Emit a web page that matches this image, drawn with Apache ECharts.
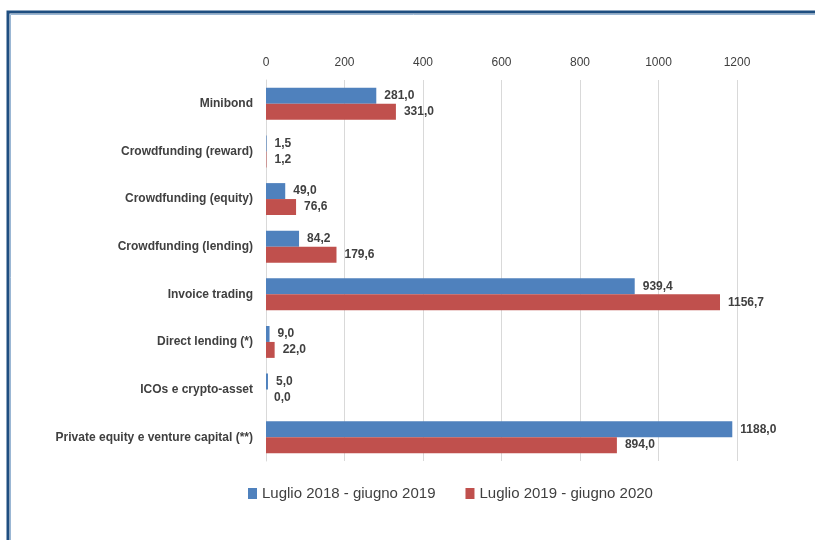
<!DOCTYPE html>
<html>
<head>
<meta charset="utf-8">
<script src="https://cdn.jsdelivr.net/npm/echarts@6/dist/echarts.min.js"></script>
<style>html,body{margin:0;padding:0;background:#fff;}#c{width:815px;height:540px;}</style>
</head>
<body>
<div id="c"></div>
<script>
var categories = ['Minibond','Crowdfunding (reward)','Crowdfunding (equity)','Crowdfunding (lending)','Invoice trading','Direct lending (*)','ICOs e crypto-asset','Private equity e venture capital (**)'];
var seriesNames = ['Luglio 2018 - giugno 2019','Luglio 2019 - giugno 2020'];
var values2019 = [281.0, 1.5, 49.0, 84.2, 939.4, 9.0, 5.0, 1188.0];
var values2020 = [331.0, 1.2, 76.6, 179.6, 1156.7, 22.0, 0.0, 894.0];

var FONT = '"Liberation Sans", Arial, sans-serif';
var chart = echarts.init(document.getElementById('c'));
function fmt(p){ return p.value.toFixed(1).replace('.', ','); }
var labelCfg = {show:true, position:'right', distance:8, formatter:fmt, color:'#404040', fontWeight:'bold', fontSize:12, fontFamily:FONT};
chart.setOption({
  animation:false,
  backgroundColor:'#fff',
  textStyle:{fontFamily:FONT},
  graphic:[
    {type:'rect', shape:{x:8, y:12, width:830, height:560}, style:{fill:'none', stroke:'#1f4e80', lineWidth:3}, silent:true},
    {type:'rect', shape:{x:10.5, y:14.5, width:830, height:560}, style:{fill:'none', stroke:'#9bb7d4', lineWidth:1}, silent:true}
  ],
  grid:{left:266, right:78, top:80, bottom:79, containLabel:false},
  legend:{
    top:481, left:243, itemWidth:9, itemHeight:11, itemGap:30,
    icon:'rect',
    textStyle:{fontSize:15, color:'#404040', fontFamily:FONT},
    data:seriesNames
  },
  xAxis:{
    type:'value', position:'top', min:0, max:1200, interval:200,
    axisLine:{show:false}, axisTick:{show:false},
    axisLabel:{color:'#404040', fontSize:12, fontFamily:FONT, margin:11, formatter:function(v){return String(v);}},
    splitLine:{lineStyle:{color:'#d9d9d9', width:1}}
  },
  yAxis:{
    type:'category', inverse:true, data:categories,
    axisLine:{show:true, lineStyle:{color:'#d9d9d9'}}, axisTick:{show:false},
    axisLabel:{color:'#404040', fontWeight:'bold', fontSize:12, fontFamily:FONT, margin:13}
  },
  series:[
    {name:seriesNames[0], type:'bar', data:values2019, barGap:'0%', barCategoryGap:'33%',
     itemStyle:{color:'#4f81bd'}, label:labelCfg},
    {name:seriesNames[1], type:'bar', data:values2020, barGap:'0%', barCategoryGap:'33%',
     itemStyle:{color:'#c0504d'}, label:labelCfg}
  ]
});
</script>
</body>
</html>
